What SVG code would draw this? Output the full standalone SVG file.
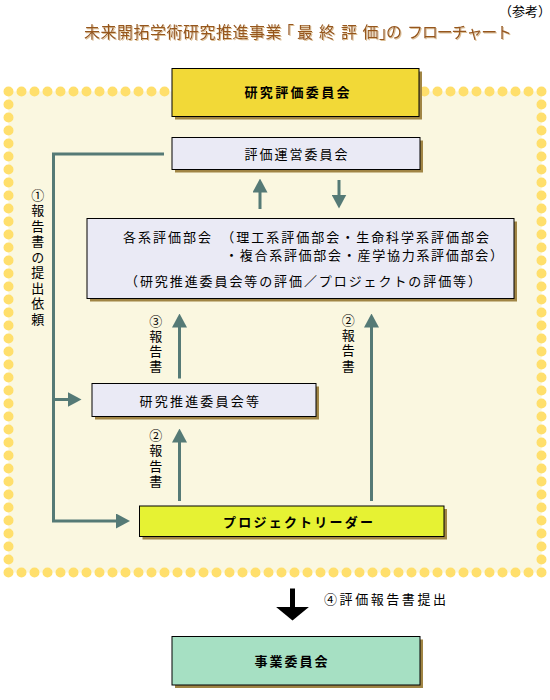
<svg xmlns="http://www.w3.org/2000/svg" width="550" height="700" viewBox="0 0 550 700">
<style>
text{font-family:"Noto Sans CJK JP","Noto Sans CJK SC",sans-serif;fill:#000;}
.t{font-size:13px;}
.b{font-weight:bold;}
.vt{font-size:13px;writing-mode:vertical-rl;text-orientation:upright;}
.title{font-size:16px;fill:#96561c;}
.box{stroke:#000;stroke-width:1;}
.shadow{fill:#a08545;}
.lav{fill:#eaeaf5;}
</style>
<defs>
<filter id="ts" x="-5%" y="-30%" width="110%" height="160%">
<feDropShadow dx="1" dy="1" stdDeviation="0.4" flood-color="#dcbf96" flood-opacity="1"/>
</filter>
<marker id="ah" viewBox="0 0 14 15" refX="0.5" refY="7.5" markerWidth="14" markerHeight="15" markerUnits="userSpaceOnUse" orient="auto">
<path d="M0,0 L14,7.5 L0,15 z" fill="#557a76"/>
</marker>
<marker id="ahb" viewBox="0 0 14 34" refX="0.5" refY="17" markerWidth="14" markerHeight="34" markerUnits="userSpaceOnUse" orient="auto">
<path d="M0,0 L14,17 L0,34 z" fill="#000"/>
</marker>
</defs>
<rect width="550" height="700" fill="#fff"/>

<g id="title">
<text class="title" y="37.5" filter="url(#ts)" x="84 100.5 117 133.5 150 166.5 183 199.5 216 232.5 249 265.5 278 297 319 341 362.5 379 386 399 407 421.9 436.7 451.6 466.4 481.3 496.1">未来開拓学術研究推進事業「最終評価」の フローチャート</text>
<text x="551" y="15.5" style="font-size:13px;text-anchor:end">（参考）</text>
</g>

<g id="frame">
<rect x="8.5" y="91.5" width="533" height="481" fill="#faf7e0"/>
<path d="M8.5,91.5 H541.5 V572.5 H8.5 Z" fill="none" stroke="#ffdf6c" stroke-width="10" stroke-linecap="round" stroke-dasharray="0 13"/>
</g>

<g id="connectors" fill="none" stroke="#557a76" stroke-width="3">
<path d="M164,154 H53.5 V521 H116.5" marker-end="url(#ah)"/>
<path d="M53.5,399.5 H68" marker-end="url(#ah)"/>
<path d="M260,209 V192" marker-end="url(#ah)"/>
<path d="M339,180 V195" marker-end="url(#ah)"/>
<path d="M179.5,378.5 V327" marker-end="url(#ah)"/>
<path d="M179.5,501 V442" marker-end="url(#ah)"/>
<path d="M371.5,501 V327" marker-end="url(#ah)"/>
<path d="M292.5,588.5 V607" stroke="#000" stroke-width="5" marker-end="url(#ahb)"/>
</g>

<g id="labels">
<text class="vt" x="37.7" y="188.5" style="letter-spacing:2.5px">①報告書の提出依頼</text>
<text class="vt" x="155.7" y="314.3" style="letter-spacing:2px">③報告書</text>
<text class="vt" x="155.7" y="428.5" style="letter-spacing:2.3px">②報告書</text>
<text class="vt" x="348.3" y="313.2" style="letter-spacing:2.4px">②報告書</text>
<text class="t" x="324" y="604" textLength="122" lengthAdjust="spacing">④評価報告書提出</text>
</g>

<g id="node-kenkyu-hyoka">
<rect class="shadow" x="175" y="71.5" width="247" height="48"/>
<rect class="box" x="172" y="68.5" width="247" height="48" fill="#f2d937"/>
<text class="t b" x="244.5" y="97.3" textLength="105" lengthAdjust="spacing">研究評価委員会</text>
</g>

<g id="node-hyoka-unei">
<rect class="shadow" x="175" y="140.5" width="248" height="32"/>
<rect class="box lav" x="172" y="137.5" width="248" height="32"/>
<text class="t" x="244.5" y="159.3" textLength="103" lengthAdjust="spacing">評価運営委員会</text>
</g>

<g id="node-kakukei">
<rect class="shadow" x="90" y="221.5" width="427" height="80"/>
<rect class="box lav" x="87" y="218.5" width="427" height="80"/>
<text class="t" x="123" y="242.3" textLength="366" lengthAdjust="spacing">各系評価部会　（理工系評価部会・生命科学系評価部会</text>
<text class="t" x="225" y="259.7" textLength="278" lengthAdjust="spacing">・複合系評価部会・産学協力系評価部会）</text>
<text class="t" x="125" y="285.7" textLength="356" lengthAdjust="spacing">（研究推進委員会等の評価／プロジェクトの評価等）</text>
</g>

<g id="node-suishin">
<rect class="shadow" x="95" y="386.5" width="224" height="33"/>
<rect class="box lav" x="92" y="383.5" width="224" height="33"/>
<text class="t" x="139.5" y="405.7" textLength="119.5" lengthAdjust="spacing">研究推進委員会等</text>
</g>

<g id="node-leader">
<rect class="shadow" x="142.5" y="509" width="304.5" height="30.5"/>
<rect class="box" x="139.5" y="506" width="304.5" height="30.5" fill="#e6f233"/>
<text class="t b" x="223" y="527.3" textLength="150" lengthAdjust="spacing">プロジェクトリーダー</text>
</g>

<g id="node-jigyo">
<rect class="shadow" x="175" y="639.5" width="248" height="48.5"/>
<rect class="box" x="172" y="636.5" width="248" height="48.5" fill="#a6e0c3"/>
<text class="t b" x="254.5" y="666" textLength="73" lengthAdjust="spacing">事業委員会</text>
</g>
</svg>
